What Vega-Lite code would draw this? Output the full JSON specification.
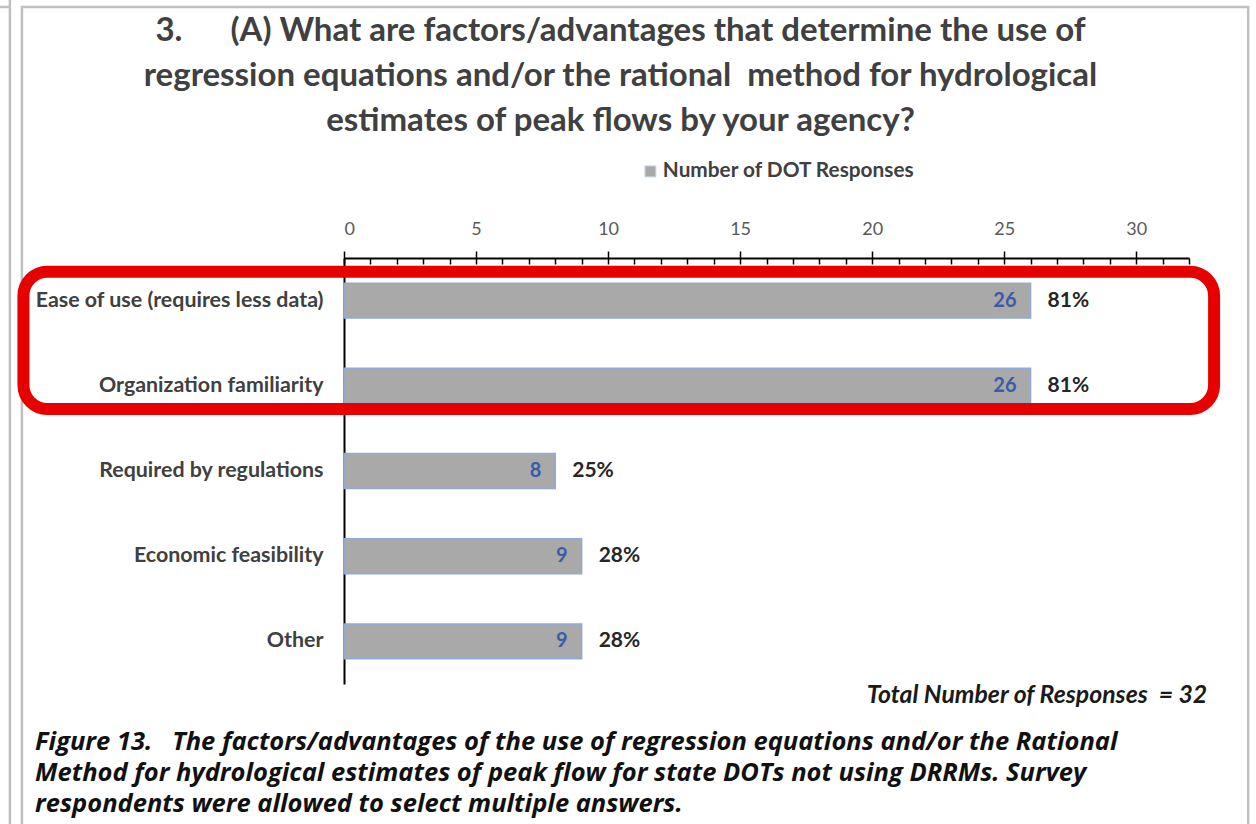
{
  "$schema": "https://vega.github.io/schema/vega-lite/v6.json",
  "width": 845,
  "height": 426,
  "autosize": {"type": "none"},
  "padding": {"left": 344, "top": 258, "right": 67, "bottom": 140},
  "background": "white",
  "title": {
    "text": [
      "3.\u00a0\u00a0\u00a0\u00a0\u00a0\u00a0(A) What are factors/advantages that determine the use of",
      "regression equations and/or the rational\u00a0\u00a0method for hydrological",
      "estimates of peak flows by your agency?"
    ],
    "font": "Lato",
    "fontSize": 33,
    "fontWeight": "bold",
    "color": "#404040",
    "lineHeight": 45,
    "anchor": "middle",
    "frame": "group",
    "dx": -146,
    "offset": -139
  },
  "config": {
    "view": {"stroke": null},
    "font": "Lato"
  },
  "resolve": {"scale": {"y": "independent"}, "axis": {"x": "independent", "y": "independent"}},
  "layer": [
    {
      "data": {"values": [{"note": "frame"}]},
      "mark": {"type": "rect", "filled": false, "stroke": "#bfbfbf", "strokeWidth": 2.5},
      "encoding": {
        "x": {"datum": -12.197, "type": "quantitative", "scale": {"domain": [0, 32], "nice": false, "zero": false}, "axis": null},
        "x2": {"datum": 34.242},
        "y": {"datum": -2.946, "type": "quantitative", "scale": {"domain": [0, 5], "reverse": true, "nice": false, "zero": false}, "axis": null},
        "y2": {"datum": 7.2}
      }
    },
    {
      "data": {"values": [{"note": "outer"}]},
      "mark": {"type": "rule", "stroke": "#bfbfbf", "strokeWidth": 2.5},
      "encoding": {
        "x": {"datum": -12.652, "type": "quantitative", "scale": {"domain": [0, 32], "nice": false, "zero": false}, "axis": null},
        "y": {"datum": -3.03, "type": "quantitative", "scale": {"domain": [0, 5], "reverse": true, "nice": false, "zero": false}, "axis": null},
        "y2": {"datum": 7.2}
      }
    },
    {
      "data": {"values": [{"note": "outer-top"}]},
      "mark": {"type": "rule", "stroke": "#bfbfbf", "strokeWidth": 2.5},
      "encoding": {
        "x": {"datum": -13.1, "type": "quantitative", "scale": {"domain": [0, 32], "nice": false, "zero": false}, "axis": null},
        "x2": {"datum": -12.652},
        "y": {"datum": -2.946, "type": "quantitative", "scale": {"domain": [0, 5], "reverse": true, "nice": false, "zero": false}, "axis": null}
      }
    },
    {
      "data": {"name": "responses", "values": [
        {"factor": "Ease of use (requires less data)", "count": 26, "share": 0.81},
        {"factor": "Organization familiarity", "count": 26, "share": 0.81},
        {"factor": "Required by regulations", "count": 8, "share": 0.25},
        {"factor": "Economic feasibility", "count": 9, "share": 0.28},
        {"factor": "Other", "count": 9, "share": 0.28}
      ]},
      "mark": {"type": "bar", "stroke": "#8fa9db", "strokeWidth": 1.5},
      "encoding": {
        "x": {
          "field": "count", "type": "quantitative",
          "scale": {"domain": [0, 32], "nice": false, "zero": false},
          "axis": {
            "orient": "top", "title": null, "grid": false,
            "values": [0, 5, 10, 15, 20, 25, 30],
            "tickSize": 7, "tickColor": "#000000", "tickWidth": 1.5,
            "domainColor": "#000000", "domainWidth": 2,
            "labelFont": "Lato", "labelFontSize": 18, "labelColor": "#595959", "labelPadding": 13
          }
        },
        "y": {
          "field": "factor", "type": "nominal", "sort": null,
          "scale": {"type": "band", "paddingInner": 0.59, "paddingOuter": 0.295},
          "axis": {
            "orient": "left", "title": null, "ticks": false,
            "domainColor": "#000000", "domainWidth": 2,
            "labelFont": "Lato", "labelFontSize": 21.4, "labelFontWeight": "bold",
            "labelColor": "#404040", "labelPadding": 21, "labelLimit": 400
          }
        },
        "color": {
          "datum": "Number of DOT Responses", "type": "nominal",
          "scale": {"range": ["#a9a9a9"]},
          "legend": {
            "orient": "none", "legendX": 296, "legendY": -97, "title": null,
            "symbolType": "square", "symbolSize": 120,
            "symbolStrokeColor": "#c9d5ec", "symbolStrokeWidth": 1,
            "labelFont": "Lato", "labelFontSize": 20.8, "labelFontWeight": "bold", "labelColor": "#404040",
            "labelOffset": 2, "labelLimit": 500
          }
        }
      }
    },
    {
      "data": {"name": "responses"},
      "mark": {"type": "text", "align": "right", "baseline": "middle", "dx": -14, "font": "Lato", "fontSize": 20, "fontWeight": "bold", "color": "#3a5ca8"},
      "encoding": {
        "x": {
          "field": "count", "type": "quantitative",
          "scale": {"domain": [0, 32], "nice": false, "zero": false},
          "axis": {
            "orient": "top", "title": null, "grid": false, "labels": false, "domain": false,
            "values": [0, 1, 2, 3, 4, 5, 6, 7, 8, 9, 10, 11, 12, 13, 14, 15, 16, 17, 18, 19, 20, 21, 22, 23, 24, 25, 26, 27, 28, 29, 30, 31, 32],
            "tickSize": -6, "tickColor": "#000000", "tickWidth": 1.5
          }
        },
        "y": {"field": "factor", "type": "nominal", "sort": null, "scale": {"type": "point", "padding": 0.5}, "axis": null},
        "text": {"field": "count", "type": "quantitative"}
      }
    },
    {
      "data": {"name": "responses"},
      "mark": {"type": "text", "align": "left", "baseline": "middle", "dx": 17, "font": "Lato", "fontSize": 21, "fontWeight": "bold", "color": "#262626"},
      "encoding": {
        "x": {"field": "count", "type": "quantitative", "scale": {"domain": [0, 32], "nice": false, "zero": false}, "axis": null},
        "y": {"field": "factor", "type": "nominal", "sort": null, "scale": {"type": "point", "padding": 0.5}, "axis": null},
        "text": {"field": "share", "type": "quantitative", "format": ".0%"}
      }
    },
    {
      "data": {"values": [{"note": "highlight"}]},
      "mark": {"type": "rect", "filled": false, "stroke": "#e60000", "strokeWidth": 12, "cornerRadius": 24},
      "encoding": {
        "x": {"datum": -12.14, "type": "quantitative", "scale": {"domain": [0, 32], "nice": false, "zero": false}, "axis": null},
        "x2": {"datum": 32.95},
        "y": {"datum": 0.161, "type": "quantitative", "scale": {"domain": [0, 5], "reverse": true, "nice": false, "zero": false}, "axis": null},
        "y2": {"datum": 1.772}
      }
    },
    {
      "data": {"values": [{"note": "total"}]},
      "mark": {"type": "text", "align": "right", "baseline": "middle", "font": "Lato", "fontSize": 24.8, "fontWeight": "bold", "fontStyle": "italic", "color": "#1a1a1a"},
      "encoding": {
        "x": {"datum": 32.69, "type": "quantitative", "scale": {"domain": [0, 32], "nice": false, "zero": false}, "axis": null},
        "y": {"datum": 5.141, "type": "quantitative", "scale": {"domain": [0, 5], "reverse": true, "nice": false, "zero": false}, "axis": null},
        "text": {"value": "Total Number of Responses\u00a0\u00a0= 32"}
      }
    },
    {
      "data": {"values": [{"note": "caption"}]},
      "mark": {"type": "text", "align": "left", "baseline": "alphabetic", "lineHeight": 31, "font": "Open Sans", "fontSize": 25.5, "fontWeight": "bold", "fontStyle": "italic", "color": "#111111"},
      "encoding": {
        "x": {"datum": -11.7, "type": "quantitative", "scale": {"domain": [0, 32], "nice": false, "zero": false}, "axis": null},
        "y": {"datum": 5.775, "type": "quantitative", "scale": {"domain": [0, 5], "reverse": true, "nice": false, "zero": false}, "axis": null},
        "text": {"value": [
          "Figure 13.\u00a0\u00a0\u00a0The factors/advantages of the use of regression equations and/or the Rational",
          "Method for hydrological estimates of peak flow for state DOTs not using DRRMs. Survey",
          "respondents were allowed to select multiple answers."
        ]}
      }
    }
  ]
}
